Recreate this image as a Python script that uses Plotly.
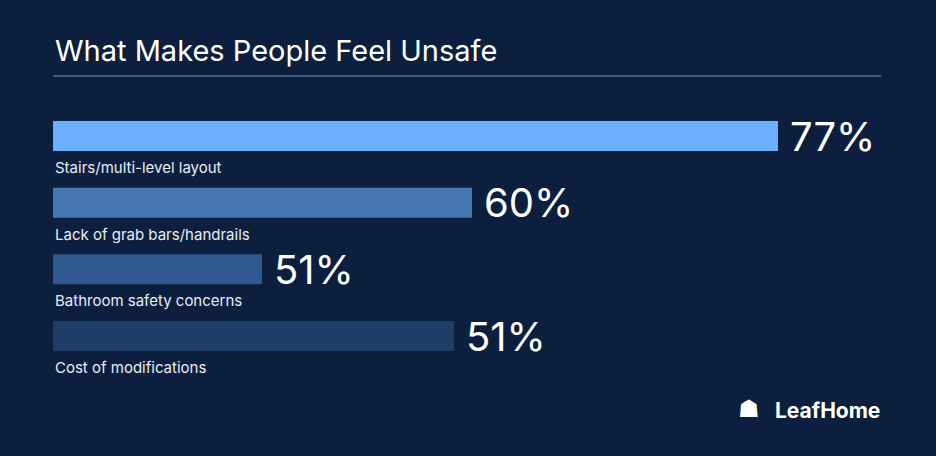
import plotly.graph_objects as go

categories = ["Stairs/multi-level layout", "Lack of grab bars/handrails", "Bathroom safety concerns", "Cost of modifications"]
value_labels = ["77%", "60%", "51%", "51%"]
# displayed bar extents as drawn in the original graphic (in % units)
bar_extent = [77, 44.5, 22.2, 42.6]
bar_colors = ["#6aaefc", "#4577b0", "#305a8f", "#1e3d68"]

W, H = 936, 456
BG = "#0c1f3e"
pos = list(range(len(categories)))

fig = go.Figure(go.Bar(
    x=bar_extent, y=pos, orientation="h", width=0.45,
    marker=dict(color=bar_colors, line=dict(width=0)), hoverinfo="skip"))

for i, (c, v, e) in enumerate(zip(categories, value_labels, bar_extent)):
    fig.add_annotation(x=0, y=i + 0.47, text=c, showarrow=False, xanchor="left", yanchor="middle",
                       font=dict(family="Inter", size=15, color="#e8edf5"))
    fig.add_annotation(x=e, y=i, text=v, showarrow=False, xanchor="left", yanchor="middle", xshift=10,
                       font=dict(family="Inter", size=40, color="white"))

fig.add_annotation(xref="paper", yref="paper", x=53 / W, y=1 - 50 / H, text="What Makes People Feel Unsafe",
                   showarrow=False, xanchor="left", yanchor="middle",
                   font=dict(family="Inter", size=29, color="white"))
fig.add_shape(type="line", xref="paper", yref="paper", x0=53 / W, x1=881 / W, y0=1 - 76 / H, y1=1 - 76 / H,
              line=dict(color="#8090a8", width=1))
fig.add_annotation(xref="paper", yref="paper", x=882 / W, y=1 - 410 / H, text="<b>LeafHome</b>",
                   showarrow=False, xanchor="right", yanchor="middle",
                   font=dict(family="Inter", size=21, color="white"))
fig.add_annotation(xref="paper", yref="paper", x=762 / W, y=1 - 409 / H, text="☗",
                   showarrow=False, xanchor="right", yanchor="middle",
                   font=dict(family="DejaVu Sans", size=24, color="white"))

px_per_unit = 725 / 77
fig.update_layout(
    width=W, height=H, margin=dict(l=0, r=0, t=0, b=0),
    paper_bgcolor=BG, plot_bgcolor=BG, showlegend=False,
    xaxis=dict(domain=[53 / W, 1], range=[0, (W - 53) / px_per_unit], visible=False, fixedrange=True),
    yaxis=dict(range=[(H - 136) / 66.67, -136 / 66.67], visible=False, fixedrange=True),
)
fig.write_html("out.html", config={"displayModeBar": False},
               post_script="document.body.style.margin='0';document.body.style.background='%s';" % BG)
